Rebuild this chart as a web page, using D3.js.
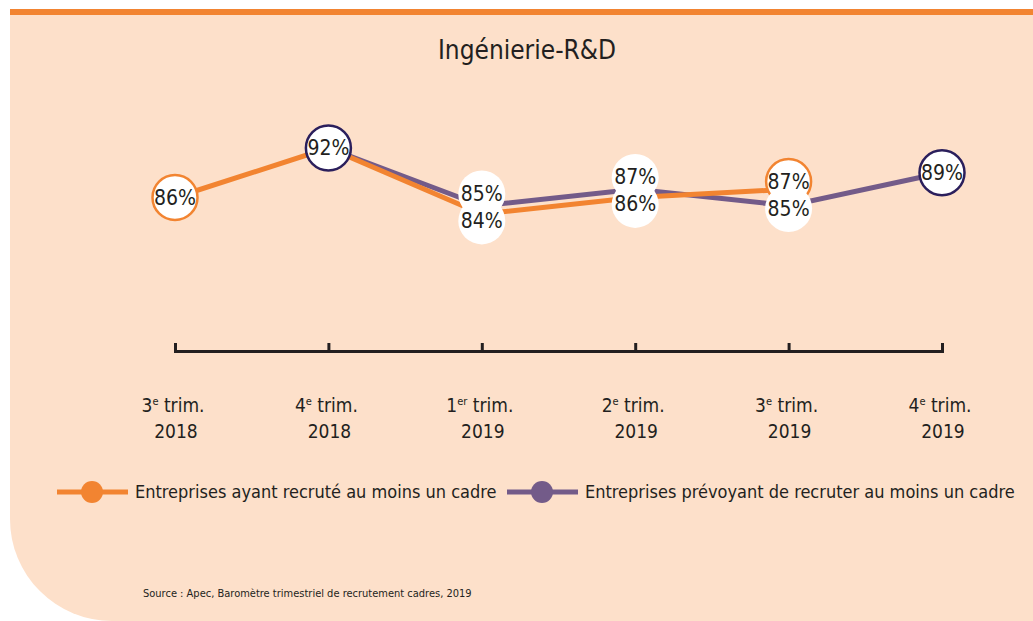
<!DOCTYPE html>
<html><head><meta charset="utf-8">
<script src="https://cdn.jsdelivr.net/npm/d3@7"></script>
<style>
html,body{margin:0;padding:0;background:#fff;}
text{font-family:"DejaVu Sans Condensed","DejaVu Sans",sans-serif;fill:#231f20;}
</style></head>
<body>
<svg id="chart" width="1033" height="621"></svg>
<script>
const quarterNums = ["3","4","1","2","3","4"];
const quarterSup = ["e","e","er","e","e","e"];
const years = ["2018","2018","2019","2019","2019","2019"];
const categories = ["T3-2018","T4-2018","T1-2019","T2-2019","T3-2019","T4-2019"];
const recruited = [86, 92, 84, 86, 87, null];
const planned = [null, 92, 85, 87, 85, 89];
const seriesNames = ["Entreprises ayant recruté au moins un cadre","Entreprises prévoyant de recruter au moins un cadre"];
const title = "Ingénierie-R&D";
const source = "Source : Apec, Baromètre trimestriel de recrutement cadres, 2019";

const W = 1033, H = 621;
const orange = "#f28431", purple = "#735b89", navy = "#2b1f5c", panel = "#fde0ca";
const svg = d3.select("#chart");

// background panel
svg.append("rect").attr("x",10).attr("y",9).attr("width",W-10).attr("height",7).attr("fill",orange);
svg.append("path").attr("d",`M10,15 H${W} V${H} H112 A102,102 0 0 1 10,519 Z`).attr("fill",panel);

svg.append("text").attr("x",527).attr("y",59).attr("text-anchor","middle")
  .style("font-size","26px").text(title);

const x = d3.scalePoint().domain(categories).range([175,942]).padding(0);
const y = d3.scaleLinear().domain([84,92]).range([214,148]);

// axis
const axis = d3.axisBottom(x).tickSizeInner(-8).tickSizeOuter(-8).tickFormat(()=>"");
const ag = svg.append("g").attr("transform","translate(0,351)").call(axis);
ag.selectAll("path,line").attr("stroke","#231f20").attr("stroke-width",3);
ag.selectAll(".tick text").remove();
categories.forEach((c,i)=>{
  const t = svg.append("text").attr("x",x(c)-2).attr("y",412).attr("text-anchor","middle").style("font-size","19px");
  t.append("tspan").text(quarterNums[i]);
  t.append("tspan").attr("dy",-7).style("font-size","11px").text(quarterSup[i]);
  t.append("tspan").attr("dy",7).text(" trim.");
  svg.append("text").attr("x",x(c)+1).attr("y",438).attr("text-anchor","middle").style("font-size","19px").text(years[i]);
});

// lines
const line = d3.line().defined(d=>d.v!=null).x(d=>x(d.c)).y(d=>y(d.v));
const recData = categories.map((c,i)=>({c,v:recruited[i]}));
const plaData = categories.map((c,i)=>({c,v:planned[i]}));
svg.append("path").datum(plaData).attr("d",line).attr("fill","none").attr("stroke",purple).attr("stroke-width",5);
svg.append("path").datum(recData).attr("d",line).attr("fill","none").attr("stroke",orange).attr("stroke-width",5);

// labels
function endpoints(arr){const idx=arr.map((v,i)=>v!=null?i:-1).filter(i=>i>=0);return [idx[0],idx[idx.length-1]];}
const recEnds = endpoints(recruited), plaEnds = endpoints(planned);
categories.forEach((c,i)=>{
  const items = [];
  const a = recruited[i], b = planned[i];
  const aOut = recEnds.includes(i) ? orange : null;
  const bOut = plaEnds.includes(i) ? navy : null;
  if(a!=null && b!=null && a===b){
    items.push({v:a, cy:y(a), stroke: bOut || aOut});
  } else if(a!=null && b!=null){
    const mid = (y(a)+y(b))/2;
    const hi = a>b ? {v:a,s:aOut} : {v:b,s:bOut};
    const lo = a>b ? {v:b,s:bOut} : {v:a,s:aOut};
    items.push({v:hi.v, cy:mid-16, stroke:hi.s});
    items.push({v:lo.v, cy:mid+11, stroke:lo.s});
  } else {
    const v = a!=null?a:b;
    items.push({v, cy:y(v), stroke: a!=null?aOut:bOut});
  }
  items.sort((p,q)=>(q.stroke?1:0)-(p.stroke?1:0));
  items.forEach(it=>{
    svg.append("circle").attr("cx",x(c)).attr("cy",it.cy).attr("r",it.stroke?22.5:23.5)
      .attr("fill","#fff").attr("stroke",it.stroke||"none").attr("stroke-width",2.5);
  });
  items.forEach(it=>{
    svg.append("text").attr("x",x(c)).attr("y",it.cy+7).attr("text-anchor","middle")
      .style("font-size","21px").text(it.v+"%");
  });
});

// legend
const leg = [{x:57,col:orange,name:seriesNames[0]},{x:507,col:purple,name:seriesNames[1]}];
leg.forEach(l=>{
  svg.append("line").attr("x1",l.x).attr("x2",l.x+71).attr("y1",492).attr("y2",492).attr("stroke",l.col).attr("stroke-width",5);
  svg.append("circle").attr("cx",l.x+35).attr("cy",492).attr("r",11).attr("fill",l.col);
  svg.append("text").attr("x",l.x+78).attr("y",498).style("font-size","18px").text(l.name);
});

svg.append("text").attr("x",143).attr("y",597).style("font-size","11px").text(source);
</script>
</body></html>
